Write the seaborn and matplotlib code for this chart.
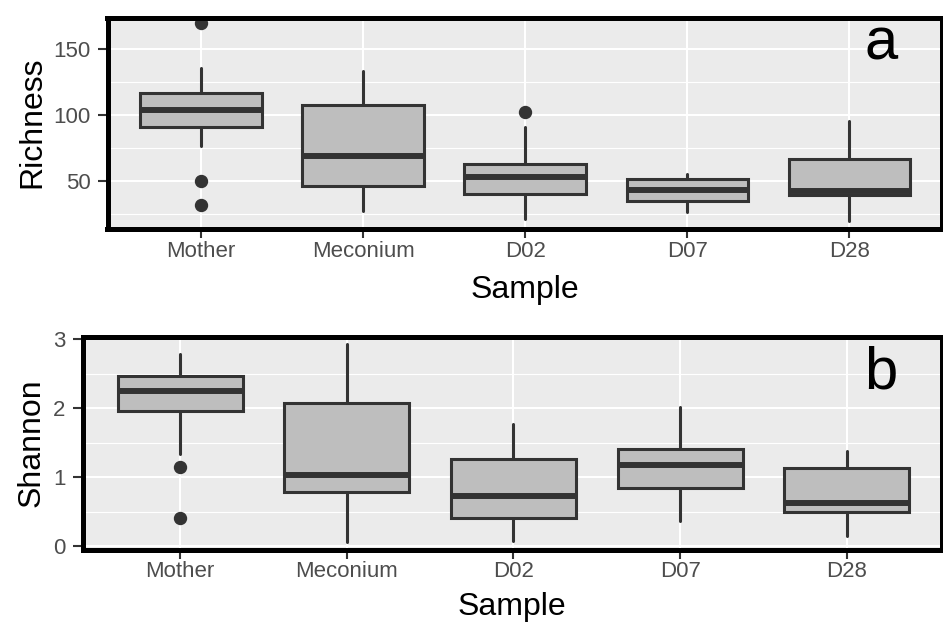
import matplotlib
matplotlib.use('Agg')
import matplotlib.pyplot as plt
import seaborn as sns
from matplotlib.ticker import MultipleLocator

# box statistics
samples = ['Mother', 'Meconium', 'D02', 'D07', 'D28']

rich_whislo = [76.5, 27.3, 21.5, 26.6, 19.5]
rich_q1 = [91.0, 46.6, 40.0, 35.0, 39.5]
rich_med = [103.6, 68.9, 53.2, 43.1, 42.6]
rich_q3 = [116.5, 107.7, 63.3, 51.7, 66.9]
rich_whishi = [135.6, 133.5, 90.7, 55.7, 95.5]
rich_out = [[169.8, 50.0, 32.2], [], [102.1], [], []]

shan_whislo = [1.34, 0.06, 0.07, 0.37, 0.14]
shan_q1 = [1.96, 0.78, 0.40, 0.84, 0.49]
shan_med = [2.25, 1.03, 0.72, 1.17, 0.63]
shan_q3 = [2.47, 2.07, 1.26, 1.40, 1.13]
shan_whishi = [2.78, 2.93, 1.77, 2.01, 1.38]
shan_out = [[1.15, 0.41], [], [], [], []]

sns.set_theme(style='darkgrid', rc={'axes.facecolor': '#EBEBEB',
                                    'grid.color': 'white',
                                    'text.color': 'black'})
plt.rcParams['font.family'] = ['Liberation Sans', 'DejaVu Sans']

W, H = 943, 623
fig = plt.figure(figsize=(W / 100, H / 100), dpi=100)


def box_panel(ax, whislo, q1, med, q3, whishi, out):
    stats = []
    for i, s in enumerate(samples):
        stats.append(dict(label=s, whislo=whislo[i], q1=q1[i], med=med[i],
                          q3=q3[i], whishi=whishi[i], fliers=out[i]))
    ax.bxp(stats, positions=range(len(samples)), widths=0.75,
           patch_artist=True, showcaps=False,
           boxprops=dict(facecolor='#BEBEBE', edgecolor='#333333', linewidth=2.2),
           whiskerprops=dict(color='#333333', linewidth=2.2),
           medianprops=dict(color='#333333', linewidth=4.3, solid_capstyle='butt'),
           flierprops=dict(marker='o', markerfacecolor='#333333',
                           markeredgecolor='#333333', markersize=8.6))
    ax.grid(which='major', color='white', linewidth=1.5)
    ax.grid(which='minor', axis='y', color='white', linewidth=0.8)
    ax.set_axisbelow(True)
    for sp in ax.spines.values():
        sp.set_visible(True)
        sp.set_color('black')
        sp.set_linewidth(3.6)
    ax.tick_params(axis='x', bottom=True, length=6.5, width=1.5, color='#333333',
                   labelsize=16, labelcolor='#4D4D4D', pad=2)
    ax.tick_params(axis='y', left=True, length=7.3, width=1.5, color='#333333',
                   labelsize=16, labelcolor='#4D4D4D', pad=5)
    ax.tick_params(which='minor', length=0)


def px_axes(left, top, right, bottom):
    return fig.add_axes([left / W, 1 - bottom / H, (right - left) / W, (bottom - top) / H])


# panel a
ax1 = px_axes(107.5, 17.5, 941.5, 229)
box_panel(ax1, rich_whislo, rich_q1, rich_med, rich_q3, rich_whishi, rich_out)
ax1.set_xlim(-0.577, 4.568)
ax1.set_ylim(13.7, 174.1)
ax1.set_yticks([50, 100, 150])
ax1.yaxis.set_minor_locator(MultipleLocator(25))

# panel b
ax2 = px_axes(82.5, 337, 941.5, 549.5)
box_panel(ax2, shan_whislo, shan_q1, shan_med, shan_q3, shan_whishi, shan_out)
ax2.set_xlim(-0.585, 4.568)
ax2.set_ylim(-0.05, 3.03)
ax2.set_yticks([0, 1, 2, 3])
ax2.yaxis.set_minor_locator(MultipleLocator(0.5))

# axis titles and panel letters
fig.text(524.5 / W, 1 - 297.7 / H, 'Sample', fontsize=23, ha='center', va='baseline')
fig.text(512 / W, 1 - 615.5 / H, 'Sample', fontsize=23, ha='center', va='baseline')
fig.text(40 / W, 1 - 122.5 / H, 'Richness', fontsize=23, rotation=90,
         rotation_mode='anchor', ha='center', va='baseline')
fig.text(40 / W, 1 - 442.5 / H, 'Shannon', fontsize=23, rotation=90,
         rotation_mode='anchor', ha='center', va='baseline')
fig.text(881 / W, 1 - 60 / H, 'a', fontsize=43, ha='center', va='baseline')
fig.text(881 / W, 1 - 388.3 / H, 'b', fontsize=43, ha='center', va='baseline')

fig.savefig('out.png', dpi=100)
